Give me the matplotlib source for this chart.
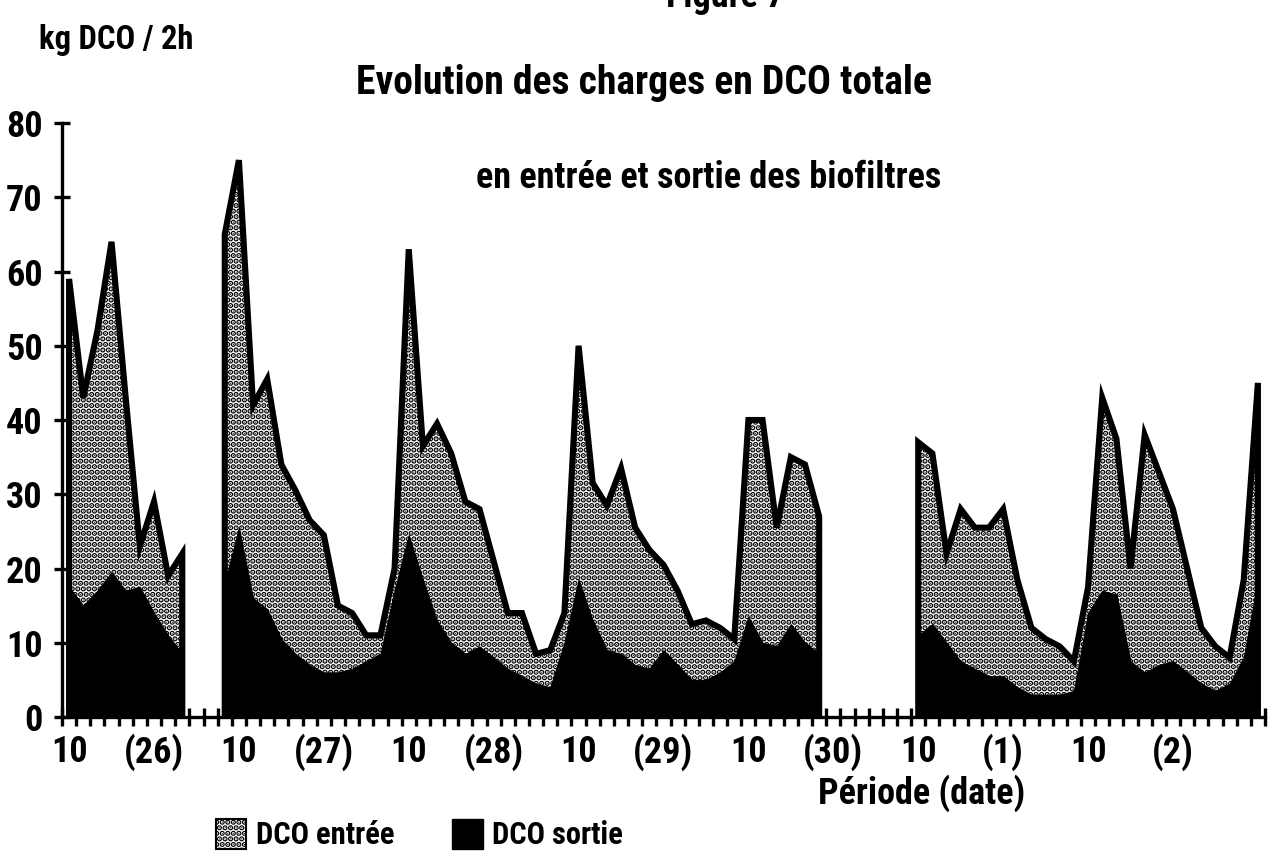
import numpy as np
import matplotlib.pyplot as plt
from matplotlib import font_manager
from matplotlib.patches import Patch


def pick_narrow_font():
    """a bold narrow/condensed face if one is installed"""
    fonts = font_manager.fontManager.ttflist
    for want in ('Liberation Sans Narrow', 'Roboto Condensed',
                 'Open Sans Condensed', 'DejaVu Sans'):
        for f in fonts:
            narrow = ('Narrow' in f.name or 'Condensed' in f.name
                      or f.stretch in ('condensed', 'semi-condensed'))
            if f.name == want and narrow:
                return f.name, f.stretch
    for f in fonts:
        if 'Narrow' in f.name or 'Condensed' in f.name or \
                f.stretch in ('condensed', 'semi-condensed'):
            return f.name, f.stretch
    return None, 'normal'


name, stretch = pick_narrow_font()
if name:
    plt.rcParams['font.family'] = [name, 'DejaVu Sans']
    plt.rcParams['font.stretch'] = stretch
    fs = 26
else:
    plt.rcParams['font.family'] = ['DejaVu Sans']
    fs = 19
plt.rcParams['font.weight'] = 'bold'
plt.rcParams['hatch.linewidth'] = 2.8

# charges mesurées toutes les 2 h (kg DCO / 2h), None = pas de mesure
entree = [59, 43, 52, 64, 43, 23, 29, 19, 22,
          None, None,
          65, 75, 42, 45.5, 34, 30.5, 26.5, 24.5, 15, 14,
          11, 11, 20, 63, 36.5, 39.5, 35.5, 29, 28, 21,
          14, 14, 8.5, 9, 14, 50, 31.5, 28.5, 33.5, 25.5,
          22.5, 20.5, 17, 12.5, 13, 12, 10.5, 40, 40, 25.5,
          35, 34, 27,
          None, None, None, None, None, None,
          37, 35.5, 22, 28, 25.5, 25.5, 28, 18.5, 12, 10.5,
          9.5, 7.5, 17.5, 43, 37.5, 20, 38, 33, 28, 20,
          12, 9.5, 8, 18.5, 45]

sortie = [17.5, 15, 17, 19.5, 17, 17.5, 14, 11, 8.5,
          None, None,
          18, 25.5, 16, 14.5, 10.5, 8.5, 7, 6, 6, 6.5,
          7.5, 8.5, 17, 24.5, 18.5, 13, 10, 8.5, 9.5, 8,
          6.5, 5.5, 4.5, 4, 10, 18.5, 13, 9, 8.5, 7,
          6.5, 9, 7, 5, 5, 6, 7.5, 13.5, 10, 9.5,
          12.5, 10, 8.5,
          None, None, None, None, None, None,
          11, 12.5, 10, 7.5, 6.5, 5.5, 5.5, 4, 3, 3,
          3, 3.5, 14, 17, 16.5, 7.5, 6, 7, 7.5, 6,
          4.5, 3.5, 4.5, 8, 18.5]

labels = ["10", "(26)", "10", "(27)", "10", "(28)", "10",
          "(29)", "10", "(30)", "10", "(1)", "10", "(2)"]
label_step = 6


def to_array(values):
    return np.array([np.nan if v is None else v for v in values], dtype=float)


def runs(y):
    """contiguous stretches of valid values"""
    ok = np.isfinite(y)
    out = []
    start = None
    for i, flag in enumerate(ok):
        if flag and start is None:
            start = i
        if not flag and start is not None:
            out.append((start, i))
            start = None
    if start is not None:
        out.append((start, len(y)))
    return out


y_in = to_array(entree)
y_out = to_array(sortie)
x = np.arange(len(y_in)) + 0.5

fig = plt.figure(figsize=(12.73, 8.59), dpi=100)
ax = fig.add_axes([0.0487, 0.1653, 0.945, 0.6915])

for a, b in runs(y_in):
    xs, ys = x[a:b], y_in[a:b]
    ax.fill_between(xs, 0, ys, facecolor='white', edgecolor='black',
                    hatch='...', linewidth=0, zorder=2)
    # contour with the vertical edges at both ends
    ax.plot(np.r_[xs[0], xs, xs[-1]], np.r_[0, ys, 0], color='black',
            lw=4.4, solid_joinstyle='miter', zorder=4)

for a, b in runs(y_out):
    ax.fill_between(x[a:b], 0, y_out[a:b], facecolor='black',
                    edgecolor='black', linewidth=0.8, zorder=3)

ax.set_xlim(0, len(y_in))
ax.set_ylim(0, 80)

for side in ('top', 'right'):
    ax.spines[side].set_visible(False)
for side in ('left', 'bottom'):
    ax.spines[side].set_linewidth(2.4)
    ax.spines[side].set_zorder(5)

ax.set_yticks(np.arange(0, 81, 10))
ax.tick_params(axis='y', direction='inout', length=12, width=2.4,
               labelsize=fs, pad=8)

ax.set_xticks(x[::label_step][:len(labels)])
ax.set_xticklabels(labels)
ax.set_xticks(np.arange(0, len(y_in) + 1), minor=True)
ax.tick_params(axis='x', which='major', length=0, labelsize=fs, pad=12)
ax.tick_params(axis='x', which='minor', direction='inout', length=13,
               width=2.4)

fig.text(0.031, 0.953, "kg DCO / 2h", fontsize=23.5, ha='left', va='center')
fig.text(0.570, 1.003, "Figure 7", fontsize=fs, ha='center', va='center')
fig.text(0.506, 0.903, "Evolution des charges en DCO totale", fontsize=28.5,
         ha='center', va='center')
fig.text(0.557, 0.793, "en entrée et sortie des biofiltres", fontsize=fs,
         ha='center', va='center')
fig.text(0.724, 0.077, "Période (date)", fontsize=fs, ha='center',
         va='center')

handles = [Patch(facecolor='white', edgecolor='black', hatch='...',
                 linewidth=1.5, label='DCO entrée'),
           Patch(facecolor='black', edgecolor='black', label='DCO sortie')]
fig.legend(handles=handles, loc='center left', bbox_to_anchor=(0.148, 0.028),
           ncol=2, frameon=False, fontsize=22, handlelength=1.0,
           handleheight=1.1, handletextpad=0.3, columnspacing=1.9)

fig.savefig('out.png', dpi=100)
